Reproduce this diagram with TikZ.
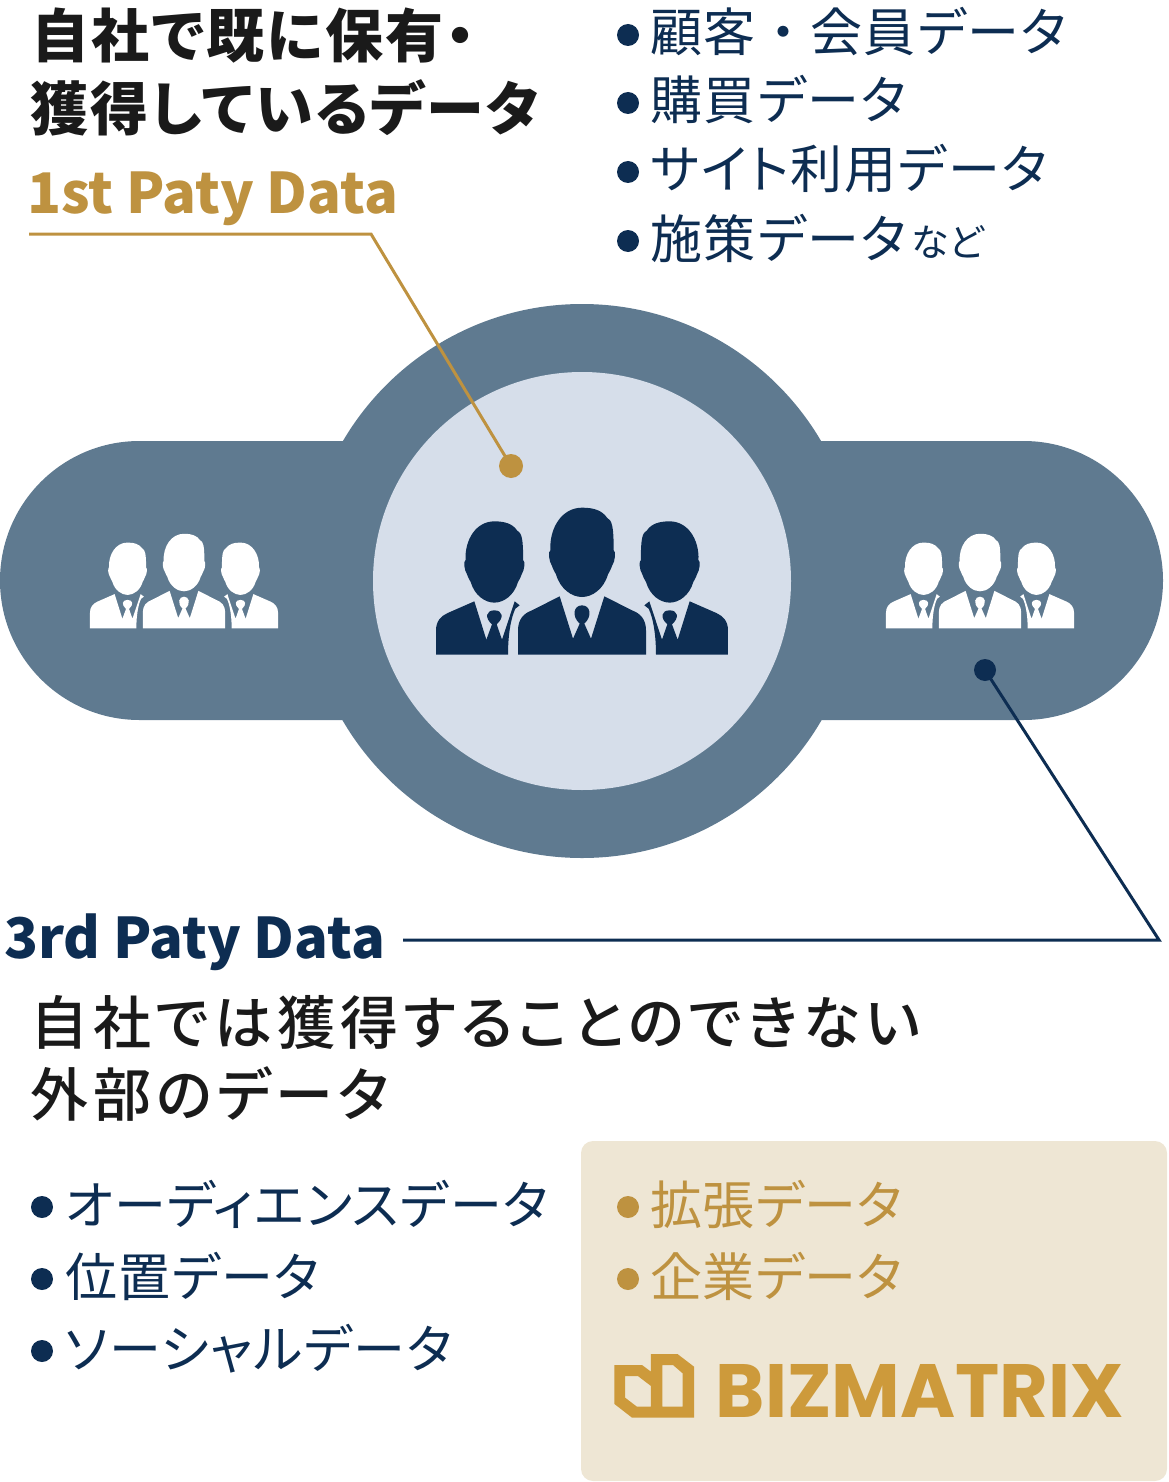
\documentclass[tikz,border=0pt]{standalone}
\usepackage{fontspec}
\usepackage{graphicx}
\setmainfont[RawFeature=+palt]{Noto Sans CJK JP}
\newfontfamily\medfont[RawFeature=+palt]{Noto Sans CJK JP Medium}
\newfontfamily\logofont{Poppins}
\definecolor{navy}{HTML}{0D2D52}
\definecolor{band}{HTML}{5F7A90}
\definecolor{pale}{HTML}{D6DEEA}
\definecolor{gold}{HTML}{BE9240}
\definecolor{logogold}{HTML}{CD9A3B}
\definecolor{sand}{HTML}{EEE6D4}
\definecolor{ink}{HTML}{1A1A1A}
\newcommand{\headshape}{(0,0) .. controls (35,0) and (60,8) .. (75,30)
  .. controls (90,38) and (95,55) .. (95,128) .. controls (102,130) and (100,160) .. (90,175)
  .. controls (85,190) and (80,195) .. (78,200) .. controls (65,245) and (30,268) .. (0,268)
  .. controls (-30,268) and (-65,245) .. (-78,200) .. controls (-80,195) and (-85,190) .. (-90,175)
  .. controls (-100,160) and (-102,130) .. (-95,128) .. controls (-98,60) and (-60,0) .. (0,0) -- cycle}
\newcommand{\sideperson}{
  \begin{scope}[shift={(-263,-179)},scale=.91] \fill \headshape; \end{scope}
  \begin{scope}[shift={(-263,0)}]
    \fill (-175,221) -- (-175,148) .. controls (-175,120) and (-160,105) .. (-140,96) -- (-60,61)
      -- (-24,176) -- (-7,130) .. controls (-30,110) and (-25,88) .. (0,88)
      .. controls (25,88) and (30,110) .. (7,130) -- (23,176) -- (61,61) -- (76,73) -- (63,83)
      .. controls (50,110) and (41,160) .. (41,221) -- cycle;
  \end{scope}}
\tikzset{
  trio/.pic={
    \begin{scope}[shift={(0,-220)}] \fill \headshape; \end{scope}
    \fill (-192,221) -- (-192,148) .. controls (-192,115) and (-175,97) .. (-150,88) -- (-67,46)
      -- (-27,173) -- (-7,128) .. controls (-32,105) and (-25,73) .. (0,73)
      .. controls (25,73) and (32,105) .. (7,128) -- (27,173) -- (67,46) -- (150,88)
      .. controls (175,97) and (192,115) .. (192,148) -- (192,221) -- cycle;
    \sideperson
    \begin{scope}[xscale=-1] \sideperson \end{scope}
  },
  disc/.style={circle,inner sep=0pt,fill=#1},
  dot/.style={circle,inner sep=0pt,minimum size=22pt,fill=#1},
  lead/.style={line width=3pt,draw=#1},
  label/.style={anchor=base west,inner sep=0pt},
}
\begin{document}
\begin{tikzpicture}[x=1pt,y=-1pt]
\useasboundingbox (0,0) rectangle (1168,1482);
% centre shape
\fill[band] (139.5,441) -- (1023.5,441) arc (90:-90:139.5pt) -- (139.5,720) arc (-90:-270:139.5pt) -- cycle;
\node [disc=band,minimum size=554pt] (outer) at (582,581) {};
\node [disc=pale,minimum size=418pt] (inner) at (582,581) {};
\pic [navy,scale=.3333] at (582,581) {trio};
\pic [white,scale=.2147] at (184,581) {trio};
\pic [white,scale=.2147] at (980,581) {trio};
% 1st party
\node [label,text=ink,font=\bfseries\fontsize{58}{58}\selectfont\addfontfeature{LetterSpace=4}] (own1) at (31,58) {自社で既に保有・};
\node [label,text=ink,font=\bfseries\fontsize{58}{58}\selectfont\addfontfeature{LetterSpace=4}] (own2) at (30,131) {獲得しているデータ};
\node [label,text=gold,font=\bfseries\fontsize{56}{56}\selectfont] (first) at (27,213) {1st Paty Data};
\coordinate (firststart) at (29,234);
\coordinate (firstknee) at (371,234);
\node [dot=gold,minimum size=24pt] (firstdot) at (511,466) {};
\draw [lead=gold] (firststart) -- (firstknee) -- (firstdot.center);
\foreach \n/\y/\txt in {a/35/顧客\hspace{14pt}・\hspace{14pt}会員データ,b/103/購買データ,c/172/サイト利用データ,d/241/施策データ}
  \node [dot=navy] (\n) at (628,\y) {}
    node [label,text=navy,font=\fontsize{52}{52}\selectfont\addfontfeature{LetterSpace=3.5}] (\n text) at (650,\y+17) {\txt};
\node [label,text=navy,font=\fontsize{38}{38}\selectfont] (etc) at (911,256) {など};
% 3rd party
\node [label,text=navy,font=\bfseries\fontsize{56}{56}\selectfont] (third) at (4,958) {3rd Paty Data};
\node [dot=navy] (thirddot) at (985,670) {};
\coordinate (thirdknee) at (1159,940);
\coordinate (thirdend) at (403,940);
\draw [lead=navy] (thirddot.center) -- (thirdknee) -- (thirdend);
\node [label,text=ink,font=\medfont\fontsize{58}{58}\selectfont\addfontfeature{LetterSpace=8.5}] (ext1) at (30,1044) {自社では獲得することのできない};
\node [label,text=ink,font=\medfont\fontsize{58}{58}\selectfont\addfontfeature{LetterSpace=8.5}] (ext2) at (30,1116) {外部のデータ};
\foreach \n/\y/\txt in {e/1207/オーディエンスデータ,f/1279/位置データ,g/1351/ソーシャルデータ}
  \node [dot=navy] (\n) at (42,\y) {}
    node [label,text=navy,font=\fontsize{52}{52}\selectfont\addfontfeature{LetterSpace=2.5}] (\n text) at (65,\y+17) {\txt};
% box
\fill[sand,rounded corners=12pt] (581,1141) rectangle (1167,1481);
\foreach \n/\y/\txt in {h/1207/拡張データ,i/1279/企業データ}
  \node [dot=gold] (\n) at (628,\y) {}
    node [label,text=gold,font=\fontsize{52}{52}\selectfont\addfontfeature{LetterSpace=1.5}] (\n text) at (650,\y+17) {\txt};
\begin{scope}[shift={(600,1340)},xscale=.3444,yscale=.3333]
  \fill[logogold,even odd rule] (42,75) -- (122,75) -- (148,95) -- (148,42) -- (225,42) -- (273,80)
    -- (273,233) -- (93,233) -- (42,192) -- cycle
    (73,108) -- (110,108) -- (148,138) -- (148,200) -- (107,200) -- (73,173) -- cycle
    (181,75) -- (212,75) -- (240,100) -- (240,200) -- (181,200) -- cycle;
\end{scope}
\node [text=logogold,inner sep=0pt] (logo) at (920,1391) {\resizebox{408pt}{53pt}{\logofont\bfseries BIZMATRIX}};
\end{tikzpicture}
\end{document}
